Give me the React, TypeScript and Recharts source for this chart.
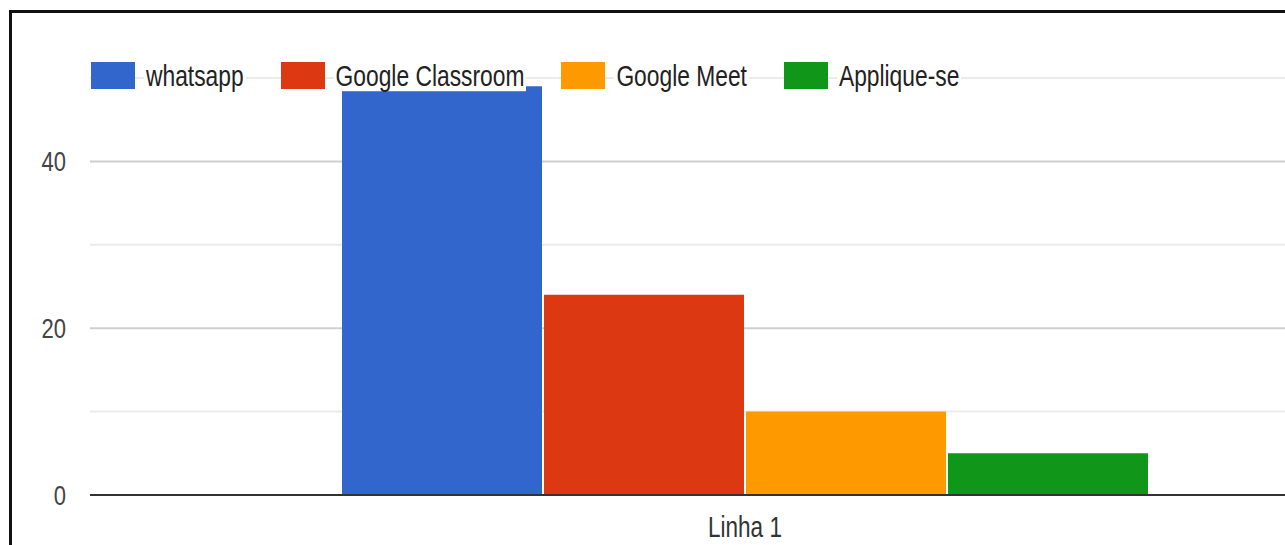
import { BarChart, Bar, XAxis, YAxis, CartesianGrid } from 'recharts';

const rows = ['Linha 1'];
const whatsapp = [49];
const googleClassroom = [24];
const googleMeet = [10];
const appliqueSe = [5];

const series = [
  { key: 'whatsapp', name: 'whatsapp', color: '#3366cc', values: whatsapp },
  { key: 'classroom', name: 'Google Classroom', color: '#dc3912', values: googleClassroom },
  { key: 'meet', name: 'Google Meet', color: '#ff9900', values: googleMeet },
  { key: 'applique', name: 'Applique-se', color: '#109618', values: appliqueSe },
];

const yTicks = [0, 10, 20, 30, 40, 50];
const yLabels = [0, 20, 40];
const majorGrid = [20, 40];
const minorGrid = [10, 30, 50];

const data = rows.map((name, i) => {
  const row: Record<string, string | number> = { name };
  series.forEach((s) => {
    row[s.key] = s.values[i];
  });
  return row;
});

const FONT = '"Liberation Sans", Arial, sans-serif';
const STRETCH = 1.28;

function YTick({ y, payload }: any) {
  if (!yLabels.includes(payload.value)) return <g />;
  return (
    <text
      transform={`translate(66,${y}) scale(1,${STRETCH})`}
      textAnchor="end"
      dominantBaseline="central"
      fontFamily={FONT}
      fontSize={22}
      fill="#444"
    >
      {payload.value}
    </text>
  );
}

function XTick({ x, payload }: any) {
  return (
    <text
      transform={`translate(${x},527) scale(1,${STRETCH})`}
      textAnchor="middle"
      dominantBaseline="central"
      fontFamily={FONT}
      fontSize={22.5}
      fill="#333"
    >
      {payload.value}
    </text>
  );
}

function ChartLegend() {
  return (
    <div
      style={{
        position: 'absolute',
        left: 91,
        top: 62,
        display: 'flex',
        alignItems: 'center',
        height: 27,
        fontFamily: FONT,
      }}
    >
      {series.map((s, i) => (
        <div
          key={s.key}
          style={{ display: 'flex', alignItems: 'center', marginLeft: i === 0 ? 0 : 35 }}
        >
          <div style={{ width: 44, height: 27, background: s.color }} />
          <span
            style={{
              marginLeft: 9,
              padding: '0 2px',
              background: '#fff',
              color: '#222',
              fontSize: 22.8,
              lineHeight: '23px',
              display: 'inline-block',
              whiteSpace: 'nowrap',
              transform: `translateY(1px) scaleY(${STRETCH})`,
            }}
          >
            {s.name}
          </span>
        </div>
      ))}
    </div>
  );
}

export default function App() {
  return (
    <div
      style={{
        position: 'fixed',
        left: 0,
        top: 0,
        width: 1285,
        height: 545,
        overflow: 'hidden',
        background: '#fff',
      }}
    >
      <BarChart
        width={1420}
        height={545}
        data={data}
        margin={{ top: 78, right: 20, left: 0, bottom: 0 }}
        barSize={200}
        barGap={2}
      >
        <CartesianGrid horizontalValues={minorGrid} vertical={false} stroke="#ebebeb" strokeWidth={2} />
        <CartesianGrid horizontalValues={majorGrid} vertical={false} stroke="#cfcfcf" strokeWidth={2} />
        <XAxis
          dataKey="name"
          height={50}
          tickLine={false}
          axisLine={{ stroke: '#333', strokeWidth: 2 }}
          tick={<XTick />}
        />
        <YAxis
          width={90}
          domain={[0, 50]}
          ticks={yTicks}
          axisLine={false}
          tickLine={false}
          tick={<YTick />}
        />
        {series.map((s) => (
          <Bar key={s.key} dataKey={s.key} name={s.name} fill={s.color} isAnimationActive={false} />
        ))}
      </BarChart>
      <ChartLegend />
      <div
        style={{
          position: 'absolute',
          left: 9,
          top: 10,
          right: -10,
          bottom: -10,
          borderLeft: '3px solid #111',
          borderTop: '3px solid #111',
          pointerEvents: 'none',
        }}
      />
    </div>
  );
}
